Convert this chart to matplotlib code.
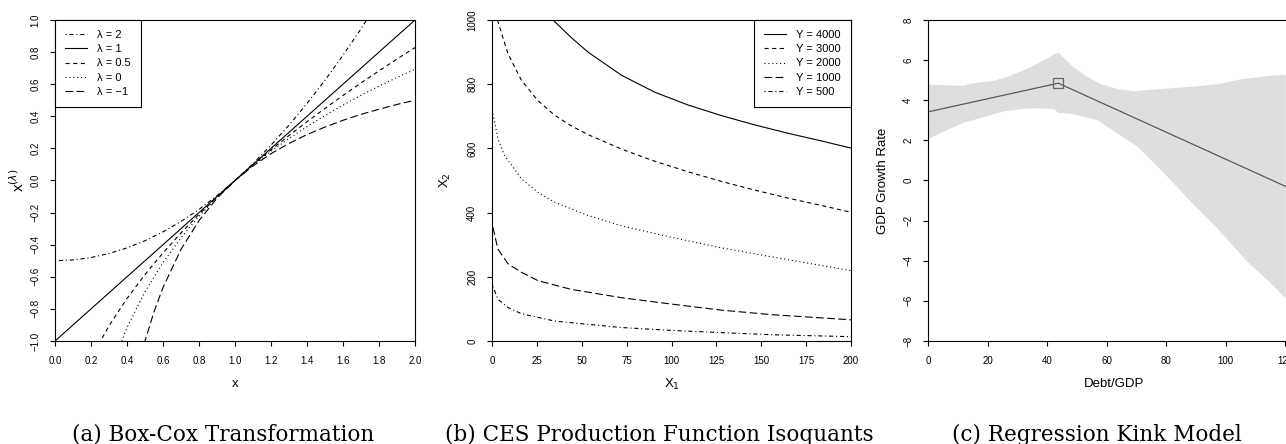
import numpy as np
import matplotlib
matplotlib.use('Agg')
import matplotlib.pyplot as plt

plt.rcParams['font.family'] = ['Liberation Sans', 'DejaVu Sans']
plt.rcParams['lines.scale_dashes'] = False
plt.rcParams['axes.linewidth'] = 0.8

# ---- (a) Box-Cox transformation
lam2_x = [0.0, 0.1, 0.2, 0.3, 0.4, 0.5, 0.6, 0.7, 0.8, 0.9, 1.0,
          1.1, 1.2, 1.3, 1.4, 1.5, 1.6, 1.7, 1.8]
lam2_y = [-0.5, -0.495, -0.48, -0.455, -0.42, -0.375, -0.32, -0.255, -0.18, -0.095, 0.0,
          0.105, 0.22, 0.345, 0.48, 0.625, 0.78, 0.945, 1.12]
lam1_x = [0.0, 2.0]
lam1_y = [-1.0, 1.0]
lam05_x = [0.2, 0.3, 0.4, 0.5, 0.6, 0.7, 0.8, 0.9, 1.0, 1.1,
           1.2, 1.3, 1.4, 1.5, 1.6, 1.7, 1.8, 1.9, 2.0]
lam05_y = [-1.106, -0.905, -0.735, -0.586, -0.451, -0.327, -0.211, -0.103, 0.0, 0.098,
           0.191, 0.280, 0.366, 0.449, 0.530, 0.608, 0.683, 0.757, 0.828]
lam0_x = [0.3, 0.4, 0.5, 0.6, 0.7, 0.8, 0.9, 1.0, 1.1,
          1.2, 1.3, 1.4, 1.5, 1.6, 1.7, 1.8, 1.9, 2.0]
lam0_y = [-1.204, -0.916, -0.693, -0.511, -0.357, -0.223, -0.105, 0.0, 0.095,
          0.182, 0.262, 0.336, 0.405, 0.470, 0.531, 0.588, 0.642, 0.693]
lamm1_x = [0.45, 0.5, 0.55, 0.6, 0.7, 0.8, 0.9, 1.0, 1.1,
           1.2, 1.3, 1.4, 1.5, 1.6, 1.7, 1.8, 1.9, 2.0]
lamm1_y = [-1.222, -1.0, -0.818, -0.667, -0.429, -0.25, -0.111, 0.0, 0.091,
           0.167, 0.231, 0.286, 0.333, 0.375, 0.412, 0.444, 0.474, 0.5]
bc_labels = ['λ = 2', 'λ = 1', 'λ = 0.5', 'λ = 0', 'λ = −1']
bc_xticks = [0.0, 0.2, 0.4, 0.6, 0.8, 1.0, 1.2, 1.4, 1.6, 1.8, 2.0]
bc_xticklabels = ['0.0', '0.2', '0.4', '0.6', '0.8', '1.0', '1.2', '1.4', '1.6', '1.8', '2.0']
bc_yticks = [-1.0, -0.8, -0.6, -0.4, -0.2, 0.0, 0.2, 0.4, 0.6, 0.8, 1.0]
bc_yticklabels = ['−1.0', '−0.8', '−0.6', '−0.4', '−0.2', '0.0', '0.2', '0.4', '0.6', '0.8', '1.0']

# ---- (b) CES isoquants
y4000_x = [30, 34, 44.2, 53.5, 72.1, 90.7, 109.3, 127.9, 146.5, 165, 183.7, 200]
y4000_y = [1024, 1000, 945, 900, 828, 775, 735, 702, 673, 647, 623, 601]
y3000_x = [3, 8.9, 16.4, 25.7, 35, 44.2, 53.5, 72.1, 90.7, 109.3, 127.9, 146.5, 165, 183.7, 200]
y3000_y = [1000, 895, 812, 748, 703, 670, 643, 598, 560, 527, 497, 470, 445, 422, 401]
y2000_x = [0.5, 3.3, 7, 16.4, 25.6, 35, 53.5, 72, 100, 128, 156, 200]
y2000_y = [708, 630, 578, 505, 463, 432, 391, 359, 323, 290, 262, 219]
y1000_x = [0.5, 3.3, 9, 16.4, 25.6, 44, 72, 100, 128, 156, 200]
y1000_y = [354, 286, 240, 214, 188, 161, 135, 115, 96, 82, 66]
y500_x = [0.5, 3.3, 9, 16.4, 35, 72, 100, 128, 156, 200]
y500_y = [170, 130, 104, 85, 62, 42, 33, 26, 19.5, 13.5]
ces_labels = ['Y = 4000', 'Y = 3000', 'Y = 2000', 'Y = 1000', 'Y = 500']
ces_xticks = [0, 25, 50, 75, 100, 125, 150, 175, 200]
ces_yticks = [0, 200, 400, 600, 800, 1000]

# ---- (c) regression kink model
kink_x = [0, 43.8, 120.3]
kink_y = [3.42, 4.85, -0.3]
upper_x = [0, 5.4, 12.1, 14.4, 22.2, 26.7, 32.4, 39.1, 43.0, 43.9, 48.1, 52.6, 57.6,
           63.8, 69.4, 77.3, 88.5, 97.5, 105.4, 116.6, 120.3]
upper_y = [4.78, 4.75, 4.72, 4.83, 4.97, 5.17, 5.5, 6.0, 6.33, 6.37, 5.75, 5.25, 4.83,
           4.55, 4.45, 4.55, 4.67, 4.8, 5.05, 5.25, 5.25]
lower_x = [0, 5.4, 12.1, 18.9, 25.6, 32.4, 36.9, 42.5, 43.8, 48.1, 57.1, 63.8, 70.6,
           79.6, 88.5, 97.5, 106.5, 115.5, 120.3]
lower_y = [2.05, 2.45, 2.88, 3.17, 3.45, 3.58, 3.6, 3.55, 3.37, 3.33, 3.0, 2.33, 1.67,
           0.33, -1.08, -2.42, -3.92, -5.17, -5.88]
kink_xticks = [0, 20, 40, 60, 80, 100, 120]
kink_yticks = [-8, -6, -4, -2, 0, 2, 4, 6, 8]

captions = ['(a) Box-Cox Transformation', '(b) CES Production Function Isoquants',
            '(c) Regression Kink Model']

# R-like line types
SOLID = '-'
DASHED = (0, (3, 2.5))
DOTTED = (0, (0.8, 2))
DOTDASH = (0, (0.8, 2, 3, 2))
LONGDASH = (0, (5.5, 2.5))
LW = 0.8

W, H = 1286, 444
fig = plt.figure(figsize=(W / 100, H / 100), dpi=100)


def px_axes(left, right, top, bottom):
    return fig.add_axes([left / W, (H - bottom) / H, (right - left) / W, (bottom - top) / H])


def r_style(ax, xl, yl, ylab_off, xlab_off=43, ylab_size=9.5):
    ax.tick_params(direction='out', length=3.6, width=0.8, labelsize=7, color='black')
    ax.tick_params(axis='x', pad=7.5)
    ax.tick_params(axis='y', pad=7)
    for s in ax.spines.values():
        s.set_color('black')
    for lab in ax.get_yticklabels():
        lab.set_rotation(90)
        lab.set_va('center')
    ax.set_xlabel(xl, fontsize=9.5, va='center')
    ax.set_ylabel(yl, fontsize=ylab_size, va='center')
    bb = ax.get_position()
    ax.xaxis.set_label_coords(0.5, -xlab_off / (bb.height * H))
    ax.yaxis.set_label_coords(-ylab_off / (bb.width * W), 0.5)


def r_legend(ax, loc, labels):
    leg = ax.legend(labels, loc=loc, fontsize=8, borderaxespad=0, fancybox=False,
                    edgecolor='black', framealpha=1, handlelength=2.0,
                    handletextpad=0.9, borderpad=0.9, labelspacing=0.38)
    leg.get_frame().set_linewidth(0.8)


# (a)
ax1 = px_axes(55, 415, 20, 341)
ax1.plot(lam2_x, lam2_y, color='black', lw=LW, ls=DOTDASH)
ax1.plot(lam1_x, lam1_y, color='black', lw=LW, ls=SOLID)
ax1.plot(lam05_x, lam05_y, color='black', lw=LW, ls=DASHED)
ax1.plot(lam0_x, lam0_y, color='black', lw=LW, ls=DOTTED)
ax1.plot(lamm1_x, lamm1_y, color='black', lw=LW, ls=LONGDASH)
ax1.set_xlim(0, 2)
ax1.set_ylim(-1, 1)
ax1.set_xticks(bc_xticks)
ax1.set_xticklabels(bc_xticklabels)
ax1.set_yticks(bc_yticks)
ax1.set_yticklabels(bc_yticklabels)
r_style(ax1, 'x', r'x$^{(\lambda)}$', 37, ylab_size=11)
r_legend(ax1, 'upper left', bc_labels)

# (b)
ax2 = px_axes(492, 851, 20, 341)
ax2.plot(y4000_x, y4000_y, color='black', lw=LW, ls=SOLID)
ax2.plot(y3000_x, y3000_y, color='black', lw=LW, ls=DASHED)
ax2.plot(y2000_x, y2000_y, color='black', lw=LW, ls=DOTTED)
ax2.plot(y1000_x, y1000_y, color='black', lw=LW, ls=LONGDASH)
ax2.plot(y500_x, y500_y, color='black', lw=LW, ls=DOTDASH)
ax2.set_xlim(0, 200)
ax2.set_ylim(0, 1000)
ax2.set_xticks(ces_xticks)
ax2.set_yticks(ces_yticks)
r_style(ax2, r'X$_1$', r'X$_2$', 47)
r_legend(ax2, 'upper right', ces_labels)

# (c)
ax3 = px_axes(928, 1300, 20, 341)
ax3.fill(upper_x + lower_x[::-1], upper_y + lower_y[::-1], color='#dedede', lw=0)
ax3.plot(kink_x, kink_y, color='#5a5a5a', lw=0.9)
ax3.plot(kink_x[1], kink_y[1], marker='s', ms=6.5, mfc='none', mec='#666666', mew=0.9)
ax3.set_xlim(0, 120 * 372 / 357)
ax3.set_ylim(-8, 8)
ax3.set_xticks(kink_xticks)
ax3.set_yticks(kink_yticks)
r_style(ax3, 'Debt/GDP', 'GDP Growth Rate', 45)

for cx, cap in zip([223, 659, 1097], captions):
    fig.text(cx / W, 3.5 / H, cap, ha='center', va='baseline',
             family='DejaVu Serif', fontsize=15.5)

fig.savefig('out.png', dpi=100)
